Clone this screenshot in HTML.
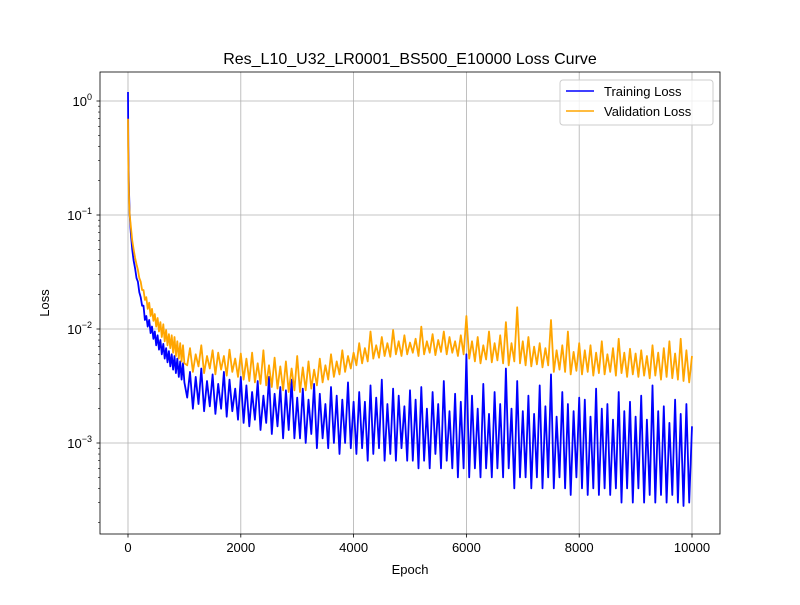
<!DOCTYPE html>
<html><head><meta charset="utf-8"><style>
body{margin:0;background:#fff;}
svg text{font-family:"Liberation Sans","DejaVu Sans",sans-serif;fill:#000;}
</style></head><body>
<svg id="chart" width="800" height="600" xmlns="http://www.w3.org/2000/svg">
<rect width="800" height="600" fill="#fff"/>
<defs><clipPath id="clip"><rect x="100" y="72" width="620" height="462"/></clipPath></defs>
<g id="grid"></g>
<g id="series" clip-path="url(#clip)"></g>
<rect x="100" y="72" width="620" height="462" fill="none" stroke="#000" stroke-width="0.8"/>
<g id="axes"></g>
<text x="410" y="64" text-anchor="middle" font-size="16">Res_L10_U32_LR0001_BS500_E10000 Loss Curve</text>
<text x="410" y="574" text-anchor="middle" font-size="13">Epoch</text>
<text x="49" y="303" text-anchor="middle" font-size="13" transform="rotate(-90 49 303)">Loss</text>
<g>
<rect x="560" y="80" width="153" height="45" rx="3" fill="#fff" fill-opacity="0.8" stroke="#ccc"/>
<line x1="566" y1="91" x2="594" y2="91" stroke="blue" stroke-width="1.5"/>
<text x="604" y="96" font-size="13">Training Loss</text>
<line x1="566" y1="111" x2="594" y2="111" stroke="orange" stroke-width="1.5"/>
<text x="604" y="116" font-size="13">Validation Loss</text>
</g>
</svg>
<script>
const earlyEpochs=[0,5,10,20,30,50,75,100,125,150,175,200,225,250,275,300,325,350,375,400,425,450,475,500,525,550,575,600,625,650,675,700,725,750,775,800,825,850,875,900,925,950,975,1000];
const trainEarly=[1.2,0.4,0.25,0.15,0.1,0.07,0.05,0.04,0.034,0.028,0.026,0.021,0.019,0.016,0.016,0.012,0.013,0.0105,0.012,0.0092,0.0105,0.0082,0.0095,0.0072,0.0088,0.0066,0.008,0.006,0.0074,0.0055,0.0068,0.0051,0.0064,0.0047,0.006,0.0044,0.0058,0.0041,0.0055,0.0038,0.0052,0.0036,0.005,0.0034];
const valEarly=[0.7,0.3,0.2,0.13,0.1,0.08,0.06,0.05,0.042,0.037,0.033,0.028,0.026,0.022,0.022,0.018,0.019,0.015,0.017,0.013,0.015,0.0118,0.0135,0.0105,0.0125,0.0095,0.0115,0.0085,0.011,0.0078,0.0098,0.0072,0.009,0.0068,0.0088,0.0062,0.0085,0.0058,0.0078,0.0055,0.0075,0.0052,0.0072,0.005];
const trainLate=[0.0025,0.0042,0.002,0.0038,0.0022,0.0045,0.0019,0.0035,0.0021,0.004,0.0018,0.0033,0.002,0.0042,0.0017,0.0036,0.0019,0.003,0.0016,0.0038,
0.0015,0.0032,0.0014,0.0028,0.0016,0.0035,0.0013,0.0026,0.0015,0.0038,0.0012,0.0027,0.0014,0.0031,0.0011,0.0029,0.0013,0.0036,0.0011,0.0025,
0.0011,0.003,0.001,0.0024,0.0012,0.0033,0.0009,0.0027,0.0011,0.0022,0.0009,0.0031,0.001,0.0026,0.0008,0.0024,0.001,0.0034,0.0009,0.0023,
0.0008,0.0028,0.0009,0.0023,0.0007,0.0032,0.0008,0.0025,0.0009,0.0036,0.0007,0.0022,0.0008,0.003,0.0007,0.0026,0.0009,0.0021,0.0007,0.0029,
0.0007,0.0024,0.0006,0.0031,0.0007,0.002,0.0006,0.0028,0.0008,0.0022,0.0006,0.0035,0.0007,0.0019,0.0006,0.0027,0.0005,0.0023,0.0006,0.006,
0.0005,0.0026,0.0006,0.002,0.0005,0.0033,0.0006,0.0018,0.0005,0.0028,0.0006,0.0022,0.0005,0.0045,0.0006,0.002,0.0004,0.0035,0.0005,0.0019,
0.0005,0.0026,0.0004,0.0018,0.0005,0.0032,0.0004,0.0021,0.0005,0.004,0.0004,0.0017,0.0005,0.0028,0.0004,0.0022,0.00035,0.0019,0.0005,0.0025,
0.0004,0.0024,0.00035,0.0017,0.0004,0.003,0.00035,0.002,0.0004,0.0022,0.00035,0.0016,0.0004,0.0028,0.0003,0.0019,0.0004,0.0023,0.0003,0.0017,
0.0004,0.0026,0.0003,0.0016,0.00035,0.0032,0.0003,0.0019,0.00035,0.0021,0.0003,0.0015,0.00035,0.0024,0.0003,0.0018,0.00028,0.0022,0.0003,0.0014];
const valLate=[0.0048,0.0068,0.0042,0.006,0.0047,0.0072,0.0041,0.0058,0.0045,0.0065,0.004,0.0062,0.0044,0.0058,0.0039,0.0066,0.0042,0.0055,0.0038,0.0061,
0.0036,0.0055,0.0035,0.0062,0.0034,0.005,0.0033,0.0065,0.0032,0.0048,0.0031,0.0056,0.003,0.0047,0.0029,0.0052,0.0028,0.0045,0.0029,0.0058,
0.0028,0.0046,0.0029,0.0052,0.003,0.0044,0.0032,0.0055,0.0034,0.0048,0.0036,0.006,0.0038,0.0052,0.004,0.0065,0.0042,0.0058,0.0045,0.0062,
0.0048,0.0075,0.005,0.0068,0.0052,0.0095,0.0055,0.0072,0.0056,0.0085,0.0058,0.0075,0.0057,0.0098,0.006,0.0078,0.0058,0.0088,0.006,0.0076,
0.0062,0.0082,0.0058,0.0105,0.006,0.0078,0.0062,0.009,0.0059,0.008,0.0063,0.0095,0.006,0.0085,0.0062,0.0078,0.0058,0.0088,0.006,0.013,
0.0055,0.0078,0.0052,0.0085,0.005,0.0072,0.0054,0.0095,0.0051,0.0075,0.0053,0.0088,0.005,0.0115,0.0048,0.0075,0.0052,0.0155,0.005,0.0078,
0.0048,0.0085,0.0047,0.007,0.0049,0.0075,0.0046,0.0068,0.0048,0.012,0.0042,0.0065,0.0044,0.0072,0.0042,0.0095,0.004,0.0063,0.0043,0.0075,
0.004,0.0065,0.0042,0.0072,0.0039,0.0062,0.0041,0.0078,0.004,0.006,0.0042,0.0068,0.0039,0.0082,0.0041,0.0062,0.0038,0.0067,0.004,0.0061,
0.0038,0.0065,0.0039,0.0058,0.0037,0.0072,0.0039,0.0062,0.0036,0.0068,0.0038,0.0078,0.0037,0.0061,0.0036,0.0082,0.0035,0.0065,0.0034,0.0058];
const xTicks=[0,2000,4000,6000,8000,10000];
const yTickExps=[0,-1,-2,-3];
const lateStart=1050, lateStep=50;

const NS="http://www.w3.org/2000/svg";
const xS=e=>128+e*0.0564;
const yS=v=>101-Math.log10(v)*114;
function mk(tag,attrs,parent){const el=document.createElementNS(NS,tag);for(const k in attrs)el.setAttribute(k,attrs[k]);parent.appendChild(el);return el;}
const grid=document.getElementById('grid'),axes=document.getElementById('axes'),series=document.getElementById('series');
xTicks.forEach(t=>{const x=xS(t);
 const g=mk('line',{x1:x,x2:x,y1:72,y2:534,stroke:'#b0b0b0','stroke-width':0.8},grid);
 
 
 mk('line',{x1:x,x2:x,y1:534,y2:537.5,stroke:'#000','stroke-width':0.8},axes);
 const tx=mk('text',{x:x,y:552,'text-anchor':'middle','font-size':13},axes);tx.textContent=t;
 
 
});
yTickExps.forEach(p=>{const y=yS(Math.pow(10,p));
 const g=mk('line',{x1:100,x2:720,y1:y,y2:y,stroke:'#b0b0b0','stroke-width':0.8},grid);
 
 
 mk('line',{x1:96.5,x2:100,y1:y,y2:y,stroke:'#000','stroke-width':0.8},axes);
 const tx=mk('text',{x:92,y:y+5,'text-anchor':'end','font-size':13},axes);
 
 
 tx.innerHTML='10<tspan dy="-6" font-size="9">'+(p<0?'\u2212'+(-p):p)+'</tspan>';
});
for(let p=-4;p<=0;p++)for(let m=2;m<=9;m++){const y=yS(m*Math.pow(10,p));if(y<72||y>534)continue;
 mk('line',{x1:98,x2:100,y1:y,y2:y,stroke:'#000','stroke-width':0.6},axes);}
function draw(vals,lateVals,color,name){
 let pts=earlyEpochs.map((e,i)=>xS(e).toFixed(1)+','+yS(vals[i]).toFixed(1));
 lateVals.forEach((v,i)=>pts.push(xS(lateStart+i*lateStep).toFixed(1)+','+yS(v).toFixed(1)));
 const pl=mk('polyline',{points:pts.join(' '),fill:'none',stroke:color,'stroke-width':1.8,'stroke-linejoin':'round'},series);
 
 
}
draw(trainEarly,trainLate,'blue','training-loss-line');
draw(valEarly,valLate,'orange','validation-loss-line');
</script>
</body></html>
